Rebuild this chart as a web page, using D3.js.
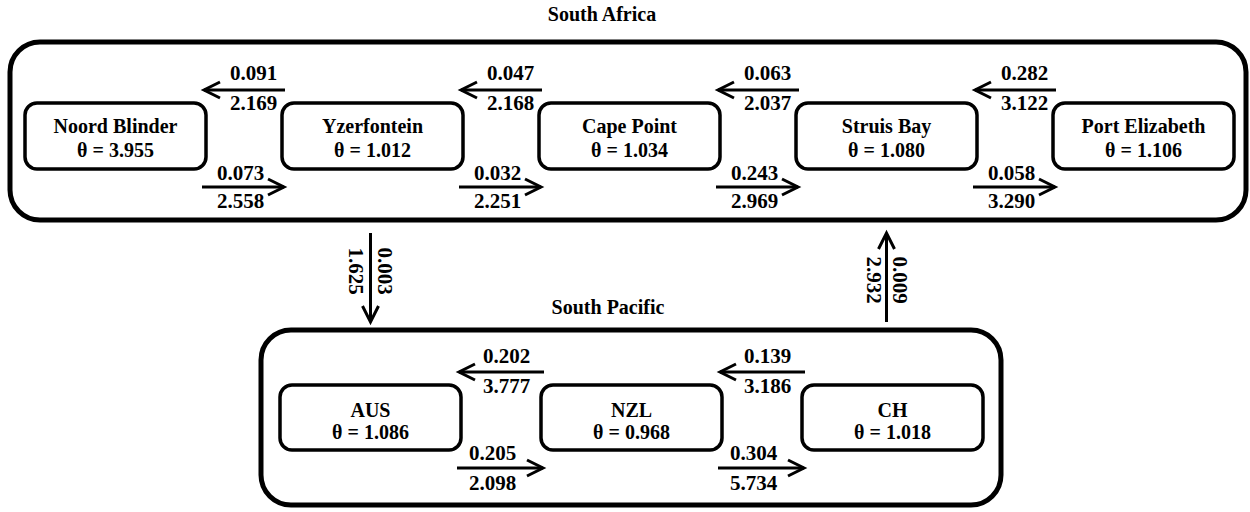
<!DOCTYPE html>
<html><head><meta charset="utf-8">
<script src="https://cdn.jsdelivr.net/npm/d3@7"></script>
<style>body{margin:0;background:#fff}</style>
</head><body>
<script>
// ---- data ----
const saSites = ["Noord Blinder","Yzerfontein","Cape Point","Struis Bay","Port Elizabeth"];
const saTheta = [3.955,1.012,1.034,1.080,1.106];
const saWestUpper = [0.091,0.047,0.063,0.282];
const saWestLower = [2.169,2.168,2.037,3.122];
const saEastUpper = [0.073,0.032,0.243,0.058];
const saEastLower = [2.558,2.251,2.969,3.290];

const spSites = ["AUS","NZL","CH"];
const spTheta = [1.086,0.968,1.018];
const spWestUpper = [0.202,0.139];
const spWestLower = [3.777,3.186];
const spEastUpper = [0.205,0.304];
const spEastLower = [2.098,5.734];

const regionNames = ["South Africa","South Pacific"];
const downLink = {from:"Yzerfontein", to:"AUS", upper:0.003, lower:1.625};
const upLink = {from:"CH", to:"Struis Bay", upper:0.009, lower:2.932};

// ---- drawing ----
const W=1250,H=512;
const FONT="'Liberation Serif', 'Times New Roman', Tinos, 'DejaVu Serif', serif";
const svg=d3.select("body").append("svg").attr("width",W).attr("height",H)
  .attr("font-family",FONT).attr("font-weight","bold");
const fmt=d3.format(".3f");
const boxW=181;
const NUM=21, NAME=20;

const xSA=d3.scaleLinear().domain([0,saSites.length-1]).range([25,1053]);
const xSP=d3.scaleLinear().domain([0,spSites.length-1]).range([280,802]);

function arrowH(g,x1,x2,y){ // arrow from x1 to x2 (tip at x2)
  const d=x2>x1?-1:1;
  g.append("line").attr("x1",x1).attr("x2",x2).attr("y1",y).attr("y2",y).attr("stroke","#000").attr("stroke-width",3);
  g.append("path").attr("d",`M${x2+d*16},${y-8}L${x2},${y}L${x2+d*16},${y+8}`).attr("fill","none").attr("stroke","#000").attr("stroke-width",3);
}
function arrowV(g,x,y1,y2){
  const d=y2>y1?-1:1;
  g.append("line").attr("x1",x).attr("x2",x).attr("y1",y1).attr("y2",y2).attr("stroke","#000").attr("stroke-width",3);
  g.append("path").attr("d",`M${x-8},${y2+d*16}L${x},${y2}L${x+8},${y2+d*16}`).attr("fill","none").attr("stroke","#000").attr("stroke-width",3);
}
function txt(x,y,s,size){
  return svg.append("text").attr("x",x).attr("y",y).attr("text-anchor","middle")
    .attr("font-family",FONT).attr("font-weight","bold").attr("font-size",size||NUM).text(s);
}

function region(cfg){
  const {sites,theta,wu,wl,eu,el,x,boxY,boxH,outer,title,nameDy,thetaDy,wy,ey,wLab,eLab}=cfg;
  svg.append("rect").attr("x",outer[0]).attr("y",outer[1]).attr("width",outer[2]).attr("height",outer[3])
    .attr("rx",30).attr("fill","none").attr("stroke","#000").attr("stroke-width",5);
  txt(title[1],title[2],title[0],20);
  sites.forEach((s,i)=>{
    svg.append("rect").attr("x",x(i)).attr("y",boxY).attr("width",boxW).attr("height",boxH).attr("rx",12)
      .attr("fill","none").attr("stroke","#000").attr("stroke-width",3.5);
    const cx=x(i)+boxW/2, cy=boxY+boxH/2;
    txt(cx,cy+nameDy,s,NAME);
    txt(cx,cy+thetaDy,"θ = "+fmt(theta[i]),NAME);
  });
  const g=svg.append("g");
  for(let i=0;i<sites.length-1;i++){
    const a=x(i)+boxW-2, b=x(i+1)+3, m=(a+b)/2;
    arrowH(g,b,a,wy);
    txt(m+wLab[0],wy+wLab[1],fmt(wu[i]));
    txt(m+wLab[0],wy+wLab[2],fmt(wl[i]));
    arrowH(g,a-2,b-1,ey);
    txt(m+eLab[0],ey+eLab[1],fmt(eu[i]));
    txt(m+eLab[0],ey+eLab[2],fmt(el[i]));
  }
}

region({sites:saSites,theta:saTheta,wu:saWestUpper,wl:saWestLower,eu:saEastUpper,el:saEastLower,x:xSA,
  boxY:103,boxH:66,outer:[10,42,1236,178],title:[regionNames[0],602,21],nameDy:-3,thetaDy:21,
  wy:90,ey:187,wLab:[9,-10,20],eLab:[-4,-7,21]});
region({sites:spSites,theta:spTheta,wu:spWestUpper,wl:spWestLower,eu:spEastUpper,el:spEastLower,x:xSP,
  boxY:385,boxH:65,outer:[261,330,740,175],title:[regionNames[1],608,314],nameDy:-1,thetaDy:21,
  wy:372,ey:468,wLab:[5,-9,21],eLab:[-9,-8,22]});

// inter-region links
const gv=svg.append("g");
const xDown=xSP(spSites.indexOf(downLink.to))+boxW/2;
arrowV(gv,xDown,233,322);
function rtxt(x,y,s){
  svg.append("text").attr("transform",`translate(${x},${y}) rotate(90)`).attr("text-anchor","middle")
    .attr("dominant-baseline","central").attr("font-family",FONT).attr("font-weight","bold").attr("font-size",NUM).text(s);
}
rtxt(xDown-15,271,fmt(downLink.lower));
rtxt(xDown+14,271,fmt(downLink.upper));
const xUp=xSA(saSites.indexOf(upLink.to))+boxW/2;
arrowV(gv,xUp,322,233);
rtxt(xUp-13,280,fmt(upLink.lower));
rtxt(xUp+13,280,fmt(upLink.upper));
</script>
</body></html>
